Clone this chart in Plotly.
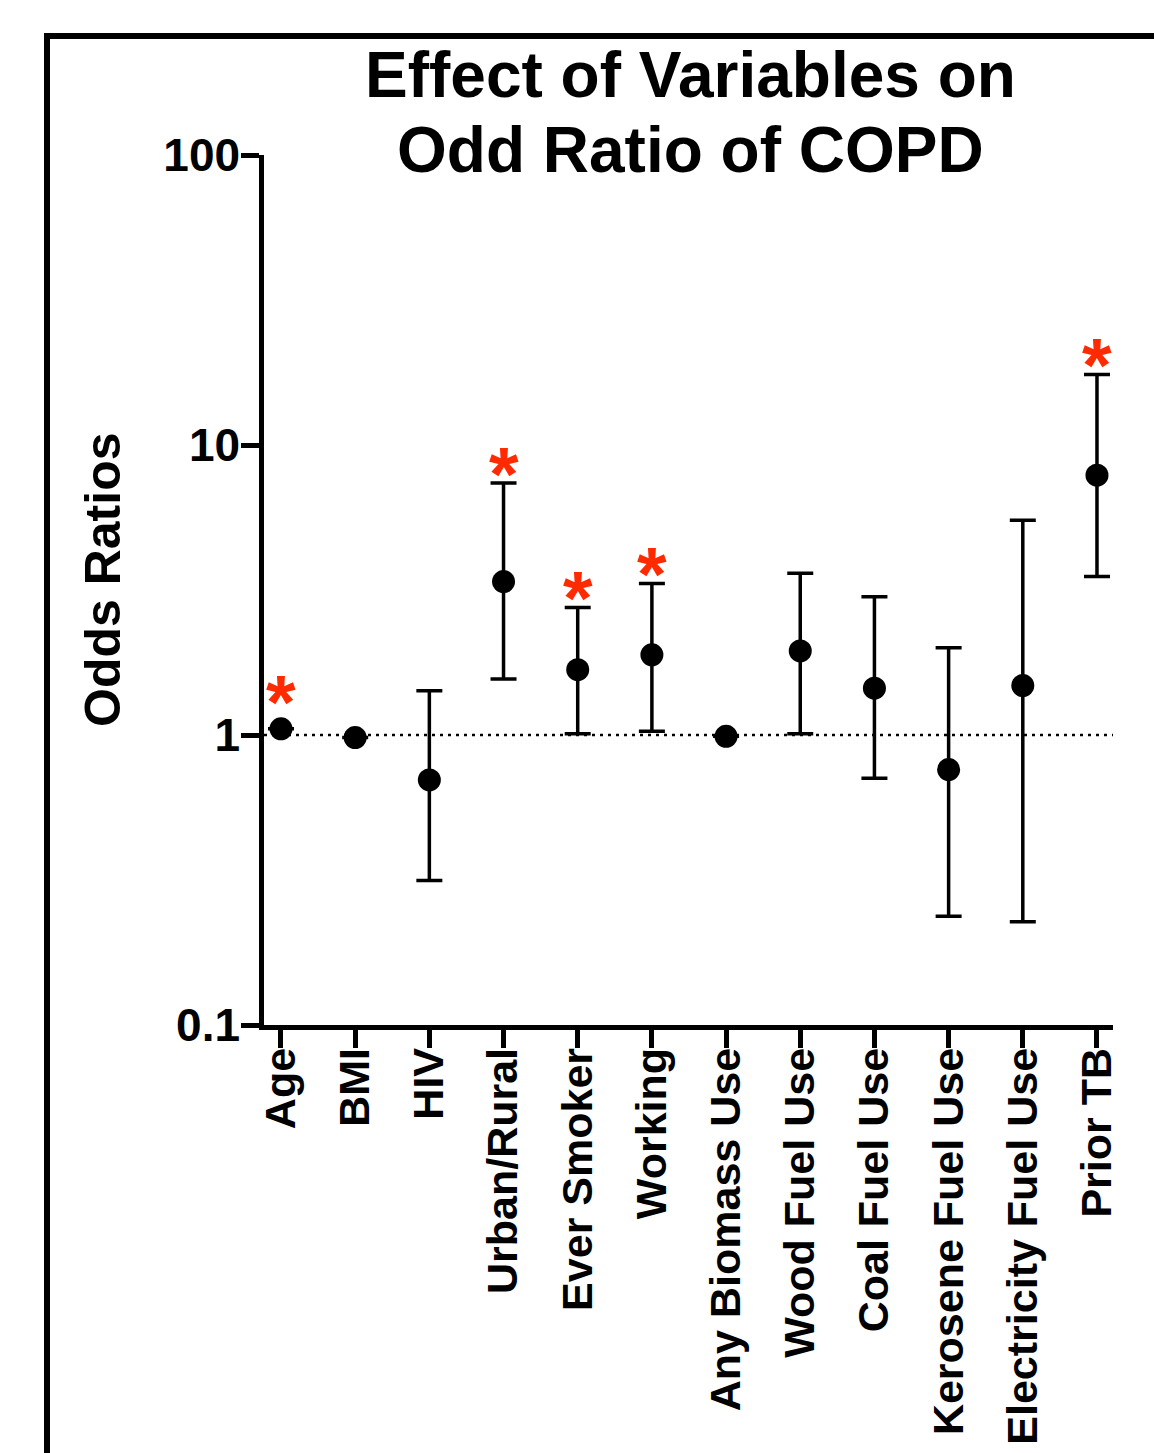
import math
import plotly.graph_objects as go

categories = ["Age", "BMI", "HIV", "Urban/Rural", "Ever Smoker", "Working",
              "Any Biomass Use", "Wood Fuel Use", "Coal Fuel Use",
              "Kerosene Fuel Use", "Electricity Fuel Use", "Prior TB"]
odds_ratio = [1.05, 0.98, 0.70, 3.38, 1.68, 1.89, 0.99, 1.95, 1.45, 0.76, 1.48, 7.87]
ci_lower = [None, None, 0.315, 1.56, 1.01, 1.03, None, 1.01, 0.71, 0.237, 0.227, 3.52]
ci_upper = [None, None, 1.42, 7.39, 2.75, 3.33, None, 3.61, 3.00, 2.00, 5.50, 17.5]
significant = [True, False, False, True, True, True, False, False, False, False, False, True]
y_tickvals = [0.1, 1, 10, 100]
y_ticktext = ["0.1", "1", "10", "100"]

FONT = "Liberation Sans, Arial, Helvetica, sans-serif"
W, H = 1154, 1453
ML, MR, MT, MB = 264, 41, 155, 428
PW, PH = W - ML - MR, H - MT - MB

xs = list(range(len(categories)))
err_plus = [(u - v) if u is not None else None for u, v in zip(ci_upper, odds_ratio)]
err_minus = [(v - l) if l is not None else None for l, v in zip(ci_lower, odds_ratio)]

x_lo = -0.229
x_hi = len(categories) - 1 + 0.216

fig = go.Figure()

# reference line at OR = 1
fig.add_trace(go.Scatter(
    x=[x_lo, x_hi], y=[1, 1], mode="lines",
    line=dict(color="black", width=2.6, dash="3px,5px"), hoverinfo="skip", showlegend=False))

fig.add_trace(go.Scatter(
    x=xs, y=odds_ratio, mode="markers",
    marker=dict(color="black", size=23),
    error_y=dict(type="data", symmetric=False, array=err_plus, arrayminus=err_minus,
                 color="black", thickness=3.5, width=13),
    showlegend=False))

# significance asterisks
for i, s in enumerate(significant):
    if not s:
        continue
    has_ci = ci_upper[i] is not None
    yv = ci_upper[i] if has_ci else odds_ratio[i]
    fig.add_annotation(x=i, y=math.log10(yv), xref="x", yref="y", text="*",
                       showarrow=False, xanchor="center", yanchor="middle",
                       yshift=10 if has_ci else 27,
                       font=dict(family=FONT, size=76, color="#ff2a00", weight="bold"))

def px_x(p):
    return (p - ML) / PW

def px_y(p):
    return (H - MB - p) / PH

# outer frame
fig.add_shape(type="rect", xref="paper", yref="paper",
              x0=px_x(47), x1=px_x(1300), y0=px_y(1600), y1=px_y(36),
              line=dict(color="black", width=6), fillcolor="rgba(0,0,0,0)")

# title lines
fig.add_annotation(text="Effect of Variables on", xref="paper", yref="paper",
                   x=px_x(690), y=px_y(75), xanchor="center", yanchor="middle",
                   showarrow=False, font=dict(family=FONT, size=64, color="black", weight="bold"))
fig.add_annotation(text="Odd Ratio of COPD", xref="paper", yref="paper",
                   x=px_x(690), y=px_y(150), xanchor="center", yanchor="middle",
                   showarrow=False, font=dict(family=FONT, size=64, color="black", weight="bold"))

# y axis title
fig.add_annotation(text="Odds Ratios", xref="paper", yref="paper",
                   x=px_x(103), y=px_y(580), xanchor="center", yanchor="middle",
                   textangle=-90, showarrow=False,
                   font=dict(family=FONT, size=50, color="black", weight="bold"))

fig.update_layout(
    width=W, height=H,
    margin=dict(l=ML, r=MR, t=MT, b=MB, autoexpand=False),
    plot_bgcolor="white", paper_bgcolor="white",
    font=dict(family=FONT, color="black"),
    xaxis=dict(type="linear", range=[x_lo, x_hi],
               tickvals=xs, ticktext=categories, tickangle=-90,
               tickfont=dict(family=FONT, size=43, color="black", weight="bold"),
               ticklabelstandoff=-17,
               showline=True, linewidth=4.5, linecolor="black",
               ticks="outside", ticklen=18, tickwidth=4.5, tickcolor="black",
               showgrid=False, zeroline=False, automargin=False),
    yaxis=dict(type="log", range=[-1, 2],
               tickvals=y_tickvals, ticktext=y_ticktext,
               tickfont=dict(family=FONT, size=46, color="black", weight="bold"),
               ticklabelstandoff=-8,
               showline=True, linewidth=4.5, linecolor="black",
               ticks="outside", ticklen=18, tickwidth=4.5, tickcolor="black",
               showgrid=False, zeroline=False, automargin=False),
)

fig.write_html("out.html", config={"displayModeBar": False},
               post_script="document.body.style.margin='0';")
